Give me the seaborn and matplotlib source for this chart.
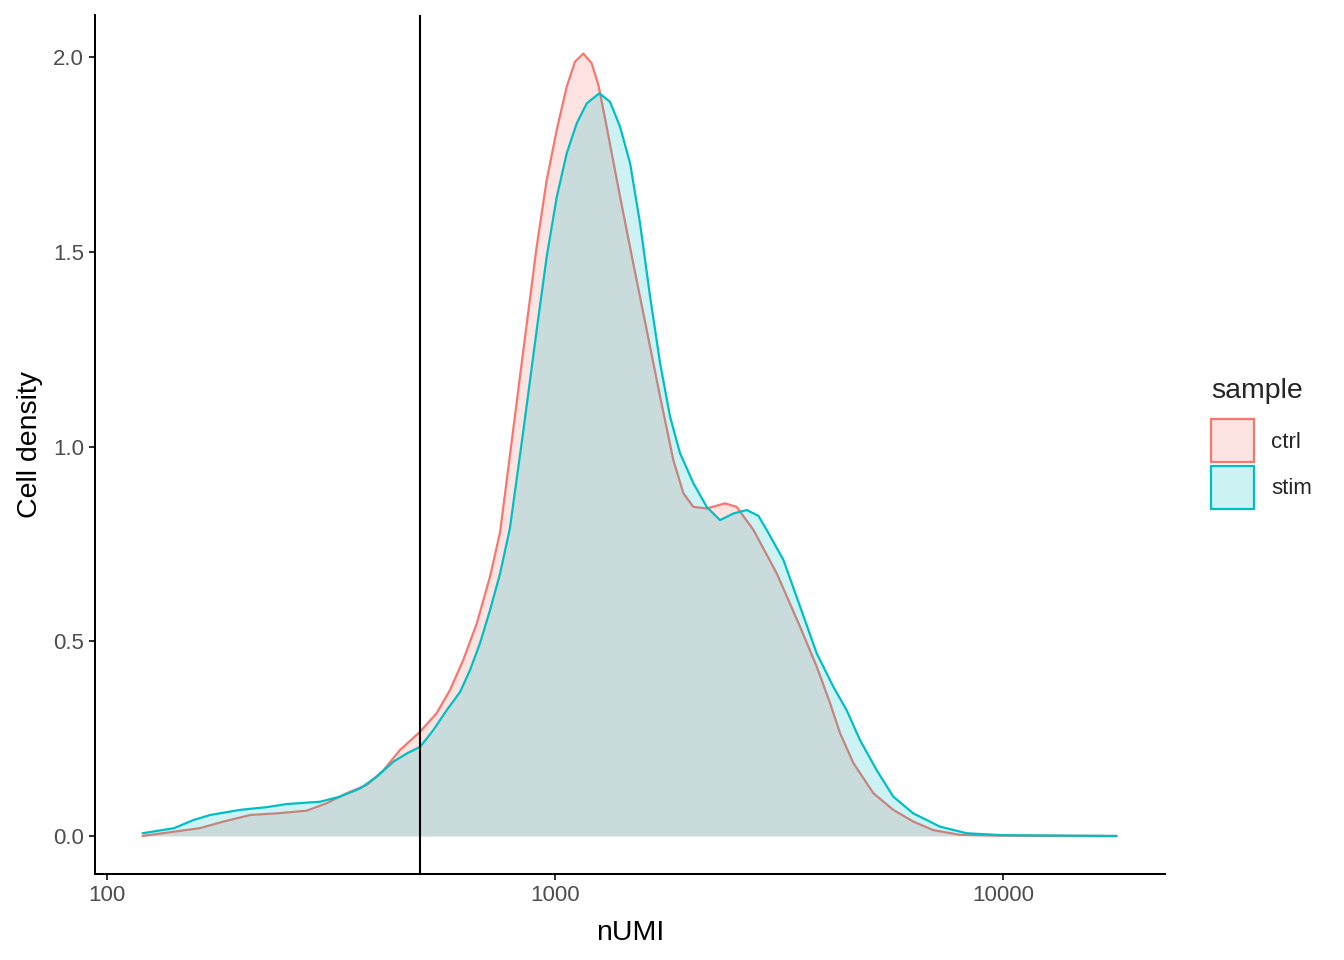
import numpy as np
import pandas as pd
import matplotlib
matplotlib.use("Agg")
import matplotlib.pyplot as plt
from matplotlib.patches import Patch
import seaborn as sns

# ---- data ----
samples = ["ctrl", "stim"]
colors = ["#F8766D", "#00BFC4"]

ctrl_numi = [120, 141, 161, 182, 209, 239, 279, 309, 343, 380, 414, 451, 500, 544, 583, 624,
             669, 716, 754, 850, 910, 958, 1009, 1062, 1108, 1157, 1207, 1250, 1304, 1397,
             1495, 1602, 1716, 1837, 1934, 2036, 2181, 2396, 2544, 2772, 3126, 3524, 3838,
             4111, 4327, 4635, 5134, 5690, 6306, 6988, 8017, 9800, 17950]
ctrl_density = [0.0, 0.011, 0.020, 0.037, 0.054, 0.058, 0.065, 0.084, 0.110, 0.131, 0.169,
                0.221, 0.268, 0.315, 0.375, 0.452, 0.546, 0.666, 0.780, 1.248, 1.513, 1.684,
                1.813, 1.924, 1.988, 2.009, 1.984, 1.928, 1.821, 1.641, 1.470, 1.299, 1.128,
                0.965, 0.880, 0.845, 0.841, 0.854, 0.845, 0.786, 0.674, 0.537, 0.435, 0.341,
                0.264, 0.187, 0.110, 0.067, 0.037, 0.015, 0.003, 0.001, 0.0]

stim_numi = [120, 141, 156, 170, 198, 227, 252, 299, 331, 367, 400, 436, 467, 500, 535, 573,
             614, 646, 680, 716, 754, 793, 850, 910, 958, 1009, 1062, 1118, 1177, 1256, 1327,
             1397, 1471, 1548, 1630, 1716, 1806, 1901, 2036, 2181, 2335, 2501, 2679, 2844,
             2968, 3234, 3524, 3838, 4181, 4477, 4796, 5224, 5690, 6306, 7234, 8297, 10000,
             17900]
stim_density = [0.007, 0.020, 0.041, 0.054, 0.067, 0.074, 0.082, 0.088, 0.101, 0.122, 0.152,
                0.191, 0.212, 0.229, 0.272, 0.323, 0.370, 0.426, 0.495, 0.580, 0.674, 0.790,
                1.042, 1.299, 1.487, 1.641, 1.753, 1.830, 1.881, 1.907, 1.885, 1.821, 1.727,
                1.573, 1.385, 1.214, 1.077, 0.983, 0.906, 0.845, 0.811, 0.828, 0.837, 0.822,
                0.786, 0.709, 0.589, 0.469, 0.383, 0.323, 0.246, 0.169, 0.101, 0.058, 0.024,
                0.007, 0.002, 0.0]

cutoff = 500
x_ticks = [100, 1000, 10000]
x_tick_labels = ["100", "1000", "10000"]
y_ticks = [0.0, 0.5, 1.0, 1.5, 2.0]
y_tick_labels = ["0.0", "0.5", "1.0", "1.5", "2.0"]

df = pd.concat([
    pd.DataFrame({"nUMI": ctrl_numi, "density": ctrl_density, "sample": "ctrl"}),
    pd.DataFrame({"nUMI": stim_numi, "density": stim_density, "sample": "stim"}),
], ignore_index=True)

# ---- style ----
sns.set_theme(style="ticks")
plt.rcParams["font.family"] = ["Liberation Sans", "DejaVu Sans"]
plt.rcParams["axes.linewidth"] = 1.45

TICK_FS = 16.0
TITLE_FS = 20.5

fig = plt.figure(figsize=(13.44, 9.6), dpi=100)
ax = fig.add_axes([95 / 1344, 1 - 874 / 960, (1165 - 95) / 1344, (874 - 15) / 960])

for i, (s, c) in enumerate(zip(samples, colors)):
    sub = df[df["sample"] == s]
    ax.fill_between(sub["nUMI"], 0, sub["density"], color=c, alpha=0.2, lw=0, zorder=2 + 2 * i)
    sns.lineplot(data=sub, x="nUMI", y="density", color=c, lw=1.6, sort=False,
                 estimator=None, ax=ax, zorder=2.5 + 2 * i, legend=False)

ax.axvline(cutoff, color="black", lw=1.5, zorder=10)

ax.set_xscale("log")
ax.set_xlim(94.0, 22990)
ax.set_ylim(-0.0976, 2.108)
ax.set_xticks(x_ticks)
ax.set_xticklabels(x_tick_labels)
ax.minorticks_off()
ax.set_yticks(y_ticks)
ax.set_yticklabels(y_tick_labels)
ax.tick_params(axis="both", length=4.3, width=1.45, color="#333333", labelsize=TICK_FS,
               labelcolor="#4D4D4D", pad=3.5)
sns.despine(ax=ax)
for sp in ["left", "bottom"]:
    ax.spines[sp].set_color("black")
ax.set_xlabel("nUMI", fontsize=TITLE_FS, color="black", labelpad=10)
ax.set_ylabel("Cell density", fontsize=TITLE_FS, color="black", labelpad=7)

handles = [Patch(facecolor=matplotlib.colors.to_rgba(c, 0.2), edgecolor=c, lw=1.6, label=s)
           for s, c in zip(samples, colors)]
leg = fig.legend(handles=handles, title="sample", loc="upper left",
                 bbox_to_anchor=(1211 / 1344, 1 - 378 / 960), frameon=False,
                 fontsize=TICK_FS, title_fontsize=TITLE_FS, handlelength=1.95,
                 handleheight=2.6, labelspacing=0.15, handletextpad=0.75,
                 borderaxespad=0, borderpad=0)
leg._legend_box.align = "left"
leg._legend_box.sep = 11

fig.savefig("out.png", dpi=100)
